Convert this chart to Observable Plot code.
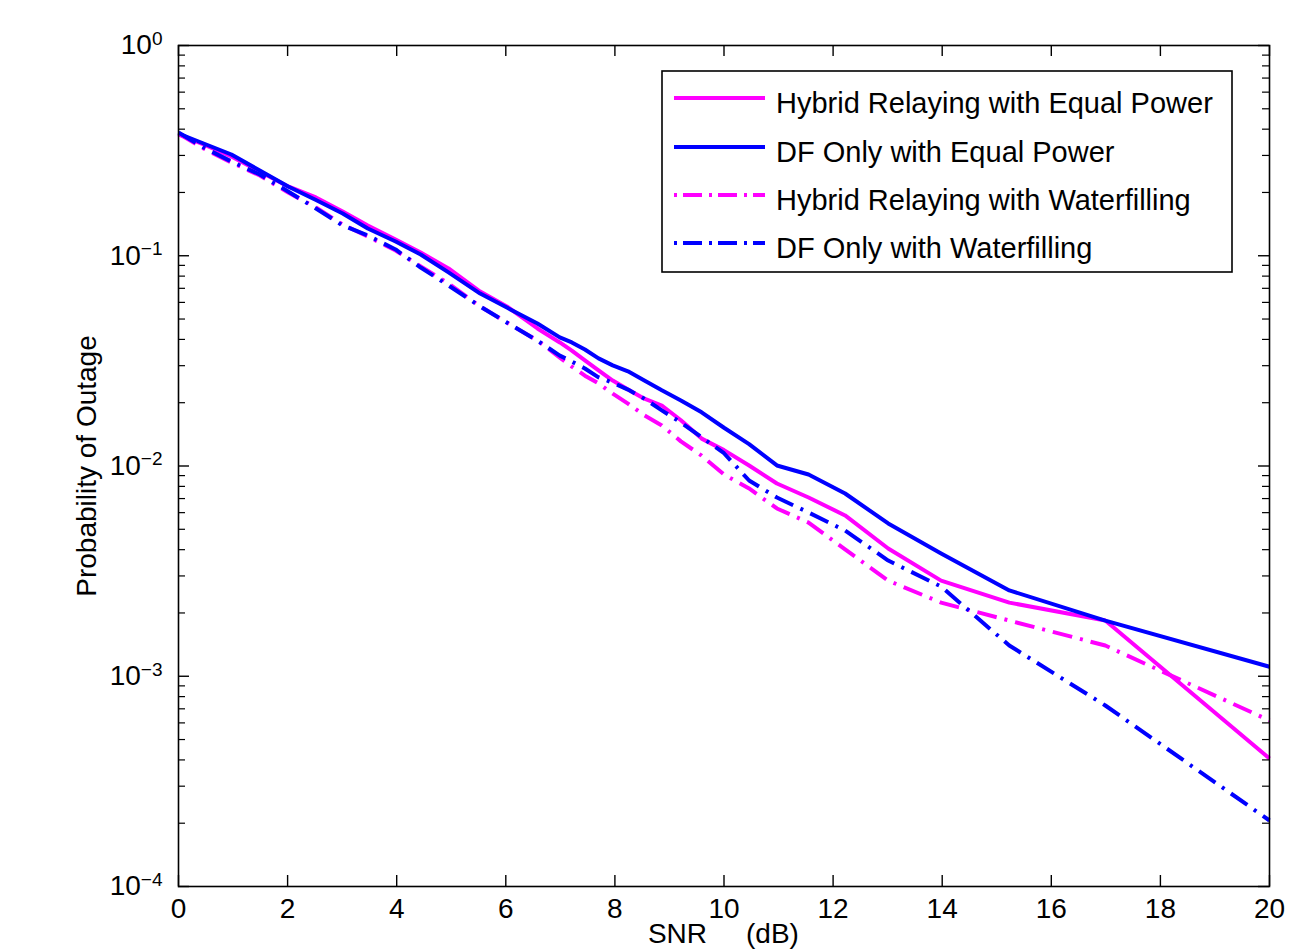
<!DOCTYPE html>
<html>
<head>
<meta charset="utf-8">
<script src="https://cdn.jsdelivr.net/npm/d3@7"></script>
<script src="https://cdn.jsdelivr.net/npm/@observablehq/plot@0.6"></script>
<style>
html, body { margin: 0; padding: 0; background: #fff; }
#wrap { position: relative; width: 1303px; height: 949px; overflow: hidden; font-family: "Liberation Sans", Arial, sans-serif; }
#wrap > svg { position: absolute; left: 0; top: 0; }
#legend { position: absolute; left: 0; top: 0; }
</style>
</head>
<body>
<div id="wrap"></div>
<script>
// ---- data ----
const snrDb = [0.00, 0.46, 0.97, 1.49, 2.01, 2.52, 3.01, 3.47, 3.98, 4.44, 4.95, 5.53, 6.02, 6.58, 6.99, 7.21, 7.45, 7.70, 7.96, 8.24, 8.54, 8.86, 9.21, 9.59, 10.00, 10.46, 10.97, 11.55, 12.22, 13.01, 13.98, 15.23, 16.99, 20.00];

const hybridEqual = [0.3773, 0.3382, 0.2966, 0.2515, 0.2136, 0.1893, 0.1624, 0.1393, 0.1195, 0.1036, 0.0870, 0.0676, 0.0574, 0.0451, 0.0387, 0.0354, 0.0318, 0.0285, 0.0255, 0.0231, 0.0209, 0.0194, 0.0165, 0.0135, 0.0119, 0.01006, 0.00826, 0.00708, 0.00582, 0.00405, 0.00285, 0.00224, 0.00184, 0.000406];

const dfEqual = [0.3815, 0.3419, 0.3031, 0.2543, 0.2136, 0.1842, 0.1589, 0.1348, 0.1169, 0.1014, 0.0833, 0.0661, 0.0567, 0.0476, 0.0409, 0.0387, 0.0358, 0.0325, 0.0301, 0.0282, 0.0255, 0.0229, 0.0205, 0.0180, 0.0152, 0.0127, 0.01006, 0.00911, 0.00740, 0.00533, 0.00384, 0.00256, 0.00184, 0.00111];

const hybridWater = [0.3815, 0.3236, 0.2777, 0.2407, 0.1999, 0.1696, 0.1408, 0.1235, 0.1059, 0.0889, 0.0738, 0.0574, 0.0481, 0.0395, 0.0328, 0.0297, 0.0269, 0.0247, 0.0221, 0.0198, 0.0174, 0.0156, 0.0131, 0.0112, 0.00911, 0.00782, 0.00628, 0.00538, 0.00401, 0.00285, 0.00224, 0.00184, 0.00140, 0.000616];

const dfWater = [0.3857, 0.3272, 0.2807, 0.2434, 0.2021, 0.1678, 0.1393, 0.1249, 0.1071, 0.0879, 0.0722, 0.0574, 0.0481, 0.0395, 0.0335, 0.0314, 0.0291, 0.0264, 0.0249, 0.0231, 0.0209, 0.0184, 0.0161, 0.0137, 0.0115, 0.00853, 0.00708, 0.00601, 0.00493, 0.00355, 0.00267, 0.00140, 0.000726, 0.000206];

const seriesNames = [
  "Hybrid Relaying with Equal Power",
  "DF Only with Equal Power",
  "Hybrid Relaying with Waterfilling",
  "DF Only with Waterfilling"
];
const seriesValues = [hybridEqual, dfEqual, hybridWater, dfWater];

const xTicks = [0, 2, 4, 6, 8, 10, 12, 14, 16, 18, 20];
const yMajor = [1e-4, 1e-3, 1e-2, 1e-1, 1];
const xLabelMain = "SNR";
const xLabelUnit = "(dB)";
const yLabel = "Probability of Outage";

// ---- styles ----
const MAGENTA = "#ff00ff", BLUE = "#0000ff";
const DASHDOT = "20,8,3,8";
const seriesStroke = [MAGENTA, BLUE, MAGENTA, BLUE];
const seriesDash = [null, null, DASHDOT, DASHDOT];
const LW = 4;
const FONT = "Liberation Sans, Arial, Helvetica, sans-serif";
const FS = 28;
const LEG_FS = 29;

const W = 1303, H = 949, mL = 178, mR = 34, mT = 45, mB = 63;
const fw = W - mL - mR, fh = H - mT - mB;

const rows = [];
seriesNames.forEach((name, i) => {
  snrDb.forEach((x, j) => rows.push({series: name, snr: x, p: seriesValues[i][j]}));
});

const allLogTicks = d3.scaleLog().domain([1e-4, 1]).ticks();
const yMinor = allLogTicks.filter(t => !yMajor.some(m => Math.abs(m - t) / m < 1e-9));

const lineMarks = seriesNames.map((name, i) =>
  Plot.line(rows.filter(r => r.series === name), {
    x: "snr", y: "p",
    stroke: seriesStroke[i],
    strokeWidth: LW,
    strokeDasharray: seriesDash[i] || undefined,
    strokeLinejoin: "round",
    strokeLinecap: "butt"
  })
);

const chart = Plot.plot({
  width: W, height: H,
  marginLeft: mL, marginRight: mR, marginTop: mT, marginBottom: mB,
  style: {fontFamily: FONT, fontSize: FS + "px", color: "#000", background: "#fff", overflow: "visible"},
  x: {domain: [0, 20]},
  y: {type: "log", domain: [1e-4, 1]},
  marks: [
    ...lineMarks,
    Plot.frame({stroke: "#000", strokeWidth: 1.6}),
    Plot.tickY(yMinor, {y: d => d, insetRight: fw - 7, stroke: "#000", strokeWidth: 1.2}),
    Plot.tickY(yMinor, {y: d => d, insetLeft: fw - 7, stroke: "#000", strokeWidth: 1.2}),
    Plot.tickY(yMajor, {y: d => d, insetRight: fw - 11, stroke: "#000", strokeWidth: 1.4}),
    Plot.tickY(yMajor, {y: d => d, insetLeft: fw - 11, stroke: "#000", strokeWidth: 1.4}),
    Plot.tickX(xTicks, {x: d => d, insetTop: fh - 11, stroke: "#000", strokeWidth: 1.4}),
    Plot.tickX(xTicks, {x: d => d, insetBottom: fh - 11, stroke: "#000", strokeWidth: 1.4}),
    Plot.axisX({ticks: xTicks, tickSize: 0, tickPadding: 12, label: null, tickFormat: d => String(d), fontSize: FS, fill: "#000"}),
    Plot.axisY({ticks: yMajor, tickSize: 0, tickPadding: 16, label: null, fontSize: FS, fill: "#000",
      tickFormat: d => "10^" + String(Math.round(Math.log10(d))).replace("-", "\u2212")}),
    Plot.text([yLabel], {text: d => d, frameAnchor: "left", rotate: -90, dx: -91, fontSize: FS, fill: "#000", textAnchor: "middle", lineAnchor: "middle"}),
    Plot.text([xLabelMain], {text: d => d, frameAnchor: "bottom", textAnchor: "end", dx: -17, dy: 48, fontSize: FS, fill: "#000", lineAnchor: "middle"}),
    Plot.text([xLabelUnit], {text: d => d, frameAnchor: "bottom", textAnchor: "start", dx: 22, dy: 48, fontSize: FS, fill: "#000", lineAnchor: "middle"})
  ]
});

document.getElementById("wrap").appendChild(chart);

// superscript exponents on the y tick labels
d3.select(chart).selectAll("text").each(function () {
  const t = this.textContent;
  if (t.indexOf("^") < 0) return;
  const [base, exp] = t.split("^");
  this.textContent = base;
  d3.select(this).append("tspan")
    .attr("dy", "-0.5em")
    .attr("font-size", "0.68em")
    .text(exp);
});

// ---- legend (boxed, upper right, inside the axes) ----
const legLeft = 662, legTop = 71, legW = 570, legH = 201;
const legRowY = [27, 76, 124, 172];
const legend = d3.select("#wrap").append("svg")
  .attr("id", "legend")
  .attr("width", W).attr("height", H)
  .style("pointer-events", "none");
const lg = legend.append("g").attr("transform", `translate(${legLeft},${legTop})`);
lg.append("rect").attr("x", 0).attr("y", 0).attr("width", legW).attr("height", legH)
  .attr("fill", "#fff").attr("stroke", "#000").attr("stroke-width", 1.6);
seriesNames.forEach((name, i) => {
  const yy = legRowY[i];
  lg.append("line").attr("x1", 12).attr("x2", 103).attr("y1", yy).attr("y2", yy)
    .attr("stroke", seriesStroke[i]).attr("stroke-width", LW)
    .attr("stroke-dasharray", seriesDash[i] ? "3,6,19,7" : null);
  lg.append("text").attr("x", 114).attr("y", yy + 15)
    .attr("font-family", FONT).attr("font-size", LEG_FS).attr("fill", "#000")
    .text(name);
});
</script>
</body>
</html>
